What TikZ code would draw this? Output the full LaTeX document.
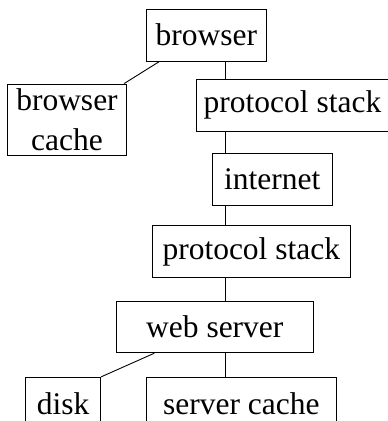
\documentclass[tikz,border=0pt]{standalone}
\usepackage{fontspec}
\setmainfont{Liberation Serif}
\begin{document}
\begin{tikzpicture}[x=1pt, y=-1pt,
  box/.style={draw, line width=0.9pt, inner sep=0pt, align=center,
    font=\fontsize{31.5}{40}\selectfont},
  link/.style={draw, line width=0.9pt}]
  \clip (0,0) rectangle (388,421);
  \useasboundingbox (0,0) rectangle (388,421);

  \node[box, minimum width=120.7pt, minimum height=52pt] (browser) at (206.3,35) {browser};
  \node[box, minimum width=119.4pt, minimum height=71pt] (bcache) at (67,119.5) {browser\\cache};
  \node[box, minimum width=197pt, minimum height=51.7pt] (pstackA) at (294.5,105.2) {\hspace*{-2pt}protocol stack\hspace*{2pt}};
  \node[box, minimum width=120pt, minimum height=51.3pt] (internet) at (272.3,179.4) {internet};
  \node[box, minimum width=197.3pt, minimum height=52pt] (pstackB) at (251.3,251.7) {protocol stack};
  \node[box, minimum width=197pt, minimum height=51.7pt] (webserver) at (214.8,326.9) {web server};
  \node[box, minimum width=75pt, minimum height=52pt] (disk) at (63.2,403.3) {disk};
  \node[box, minimum width=190.7pt, minimum height=52pt] (scache) at (241.4,403.3) {server cache};

  % the vertical spine shared by the protocol chain
  \coordinate (spine) at (225,0);

  \draw[link] (browser.south -| spine) -- (pstackA.north -| spine);
  \draw[link] (pstackA.south -| spine) -- (internet.north -| spine);
  \draw[link] (internet.south -| spine) -- (pstackB.north -| spine);
  \draw[link] (pstackB.south -| spine) -- (webserver.north -| spine);
  \draw[link] (webserver.south -| spine) -- (scache.north -| spine);

  \draw[link] ([xshift=14pt]browser.south west) -- ([xshift=-3pt]bcache.north east);
  \draw[link] ([xshift=38.5pt]webserver.south west) -- (disk.north east);
\end{tikzpicture}
\end{document}
